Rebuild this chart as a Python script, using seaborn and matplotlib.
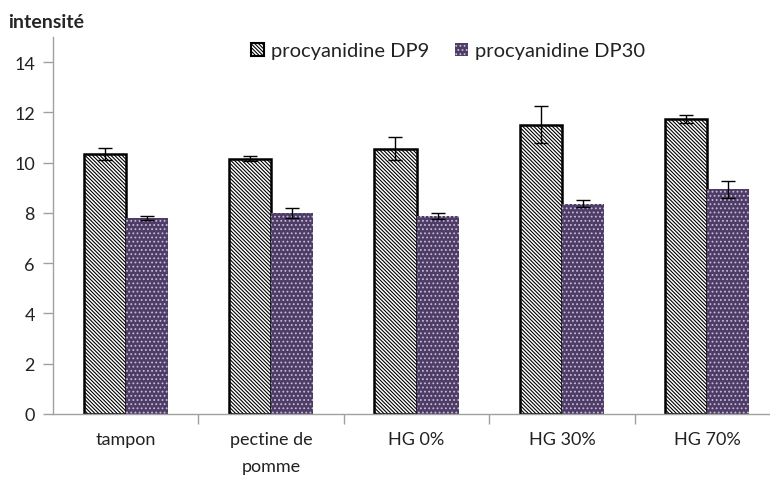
import matplotlib
matplotlib.use("Agg")
import matplotlib.pyplot as plt
import seaborn as sns
import pandas as pd
import numpy as np

# données
categories = ["tampon", "pectine de\npomme", "HG 0%", "HG 30%", "HG 70%"]
series = ["procyanidine DP9", "procyanidine DP30"]
dp9 = [10.36, 10.16, 10.55, 11.51, 11.73]
dp9_err = [0.24, 0.09, 0.46, 0.73, 0.15]
dp30 = [7.80, 8.00, 7.88, 8.37, 8.94]
dp30_err = [0.08, 0.21, 0.13, 0.13, 0.35]

df = pd.DataFrame({
    "categorie": categories * 2,
    "serie": [series[0]] * 5 + [series[1]] * 5,
    "valeur": dp9 + dp30,
    "err": dp9_err + dp30_err,
})

sns.set_style("white")
plt.rcParams["font.family"] = ["Lato", "DejaVu Sans"]
plt.rcParams["hatch.linewidth"] = 0.8

HATCH9 = "\\\\\\\\\\\\\\\\\\"
HATCH30 = "...."
VIOLET = "#4d3d66"
POINTS = "#c7b9d6"

fig = plt.figure(figsize=(7.7, 4.81), dpi=100)
ax = fig.add_axes([53 / 770, 1 - 415 / 481, 1 - 53 / 770, (415 - 38) / 481])

sns.barplot(data=df, x="categorie", y="valeur", hue="serie", order=categories,
            hue_order=series, errorbar=None, width=0.58, ax=ax,
            palette=["white", VIOLET], legend=True)


def style_patch(p, ser, lw=1.8):
    if ser == series[0]:
        p.set_facecolor("white")
        p.set_edgecolor("black")
        p.set_hatch(HATCH9)
        p.set_linewidth(lw)
    else:
        p.set_facecolor(VIOLET)
        p.set_edgecolor(POINTS)
        p.set_hatch(HATCH30)
        p.set_linewidth(0)


# motifs : hachures pour DP9, points pour DP30
for cont, ser in zip(ax.containers, series):
    for p in cont:
        style_patch(p, ser)

# barres d'erreur
for cont, ser in zip(ax.containers, series):
    sub = df[df["serie"] == ser].set_index("categorie").loc[categories]
    xs = [p.get_x() + p.get_width() / 2 for p in cont]
    ax.errorbar(xs, sub["valeur"], yerr=sub["err"], fmt="none", ecolor="black",
                elinewidth=1, capsize=5, capthick=1, zorder=5)

ax.set_ylim(0, 15)
ax.set_yticks(np.arange(0, 15, 2))
ax.set_xlim(-0.5, 4.5 - 10 / 145.4)
ax.set_xlabel("")
ax.set_ylabel("")

for s in ["top", "right"]:
    ax.spines[s].set_visible(False)
ax.spines["left"].set_color("#a0a0a0")
ax.spines["bottom"].set_color("#a0a0a0")
ax.spines["left"].set_linewidth(1)
ax.spines["bottom"].set_linewidth(1)

ax.tick_params(axis="y", direction="out", length=7, width=1, color="#a0a0a0",
               labelsize=13, pad=6, left=True, labelcolor="#222222")
ax.set_xticks([0.5, 1.5, 2.5, 3.5], minor=True)
ax.tick_params(axis="x", which="major", length=0, labelsize=13, pad=12,
               labelcolor="#222222")
ax.tick_params(axis="x", which="minor", direction="out", length=7, width=1,
               color="#a0a0a0", bottom=True)
for lab in ax.get_xticklabels():
    lab.set_linespacing(1.85)

fig.text(8 / 770, 1 - 23 / 481, "intensité", fontsize=14, fontweight="bold",
         va="center", ha="left")

leg = ax.legend(loc="center left", bbox_to_anchor=(243 / 770, 1 - 52 / 481),
                bbox_transform=fig.transFigure, ncol=2, frameon=False,
                handlelength=0.65, handleheight=0.65, handletextpad=0.35,
                columnspacing=1.25, fontsize=14.5, borderaxespad=0)
for h, ser in zip(leg.legend_handles, series):
    style_patch(h, ser, lw=1.5)
for t in leg.get_texts():
    t.set_color("#222222")

fig.savefig("out.png", dpi=100)
